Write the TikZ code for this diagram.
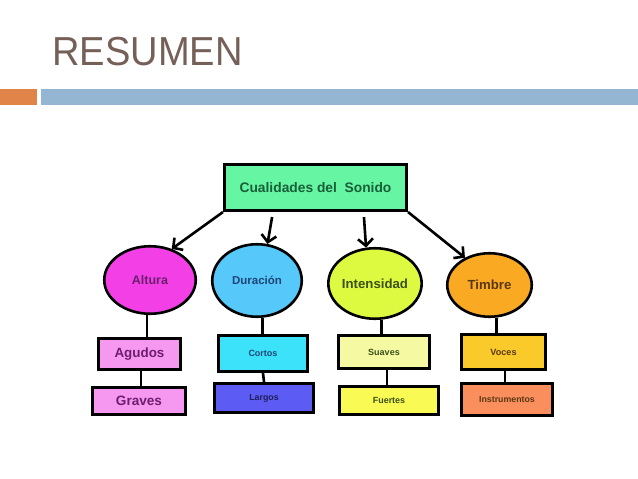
\documentclass[tikz,border=0pt]{standalone}
\usepackage{fontspec}
\setmainfont{Liberation Sans}
\usepackage{color}
\definecolor{titlegray}{RGB}{117,96,88}
\definecolor{barorange}{RGB}{224,132,74}
\definecolor{barblue}{RGB}{148,182,210}
\definecolor{mintgreen}{RGB}{102,245,162}
\definecolor{altmagenta}{RGB}{242,64,230}
\definecolor{durblue}{RGB}{86,200,250}
\definecolor{intlime}{RGB}{222,250,64}
\definecolor{timorange}{RGB}{250,170,34}
\definecolor{lightpink}{RGB}{246,152,240}
\definecolor{cortocyan}{RGB}{60,226,250}
\definecolor{largoblue}{RGB}{92,92,245}
\definecolor{paleyellow}{RGB}{245,250,162}
\definecolor{brightyellow}{RGB}{250,250,84}
\definecolor{gold}{RGB}{250,202,42}
\definecolor{salmon}{RGB}{250,142,92}
\definecolor{txtgreen}{RGB}{25,95,55}
\definecolor{txtpurple}{RGB}{110,30,110}
\definecolor{txtblue}{RGB}{30,70,120}
\definecolor{txtnavy}{RGB}{30,30,90}
\definecolor{txtolive}{RGB}{60,80,25}
\definecolor{txtbrown}{RGB}{90,55,20}
\usepackage{tikz}
\usetikzlibrary{shapes.geometric,arrows.meta,calc}
\tikzstyle{oval}=[draw,ellipse,inner sep=0pt]
\tikzstyle{box}=[draw,rectangle,inner sep=0pt]
\newcommand{\fs}[1]{\fontsize{#1}{#1}\selectfont\bfseries}

\begin{document}
\begin{tikzpicture}[x=1pt,y=-1pt,line width=2.6pt,>={Straight Barb[length=7pt,width=15pt]}]
\useasboundingbox (0,0) rectangle (638,479);
% header
\fill[barorange] (0,89) rectangle (37,105);
\fill[barblue] (41,89) rectangle (638,105);
\draw (51,65) node [anchor=base west,inner sep=0pt,text=titlegray,font=\fontsize{40.5}{40.5}\selectfont] (title) {\scalebox{0.94}[1]{RESUMEN}};
% main box
\draw (315.5,187.5) node [box,fill=mintgreen,minimum width=182.5pt,minimum height=46.5pt,text=txtgreen,font=\fs{13.8}] (top) {Cualidades del\ \ Sonido};
% qualities
\draw (150,280) node [oval,fill=altmagenta,minimum width=91.5pt,minimum height=67.5pt,text=txtpurple,font=\fs{12.5}] (alt) {Altura};
\draw (257,280.5) node [oval,fill=durblue,minimum width=89.5pt,minimum height=72.5pt,text=txtblue,font=\fs{11.5}] (dur) {Duración};
\draw (375,283.5) node [oval,fill=intlime,minimum width=91.5pt,minimum height=70.5pt,text=txtolive,font=\fs{13.2}] (int) {Intensidad};
\draw (489.5,285) node [oval,fill=timorange,minimum width=84.5pt,minimum height=63.5pt,text=txtbrown,font=\fs{13.2}] (tim) {Timbre};
% leaves
\draw (139.5,354) node [box,fill=lightpink,minimum width=82.5pt,minimum height=31.5pt,text=txtpurple,font=\fs{13.4}] (agu) {Agudos};
\draw (139,401) node [box,fill=lightpink,minimum width=93.5pt,minimum height=27.5pt,text=txtpurple,font=\fs{13.6}] (gra) {Graves};
\draw (263,353.5) node [box,fill=cortocyan,minimum width=89.5pt,minimum height=36.5pt,text=txtblue,font=\fs{9}] (cor) {Cortos};
\draw (264,398) node [box,fill=largoblue,minimum width=99.5pt,minimum height=29.5pt,text=txtnavy,font=\fs{8.8}] (lar) {Largos};
\draw (384,352) node [box,fill=paleyellow,minimum width=91.5pt,minimum height=33.5pt,text=txtolive,font=\fs{9}] (sua) {Suaves};
\draw (389,400.5) node [box,fill=brightyellow,minimum width=99.5pt,minimum height=28.5pt,text=txtolive,font=\fs{8.9}] (fue) {Fuertes};
\draw (503.5,352) node [box,fill=gold,minimum width=84.5pt,minimum height=35.5pt,text=txtbrown,font=\fs{9.1}] (voc) {Voces};
\draw (507,399.5) node [box,fill=salmon,minimum width=91.5pt,minimum height=32.5pt,text=txtbrown,font=\fs{8.8}] (ins) {Instrumentos};
% arrows
\draw[->] (top.south west) -- (alt.55);
\draw[->,shorten <=5pt] ($(top.south west)!0.27!(top.south east)$) -- (dur.74);
\draw[->,shorten <=5pt] ($(top.south west)!0.76!(top.south east)$) -- (int.104);
\draw[->] (top.south east) -- (tim.132);
% links
\draw (alt.-95) -- (alt.-95 |- agu.north);
\draw (agu.-85) -- (agu.-85 |- gra.north);
\draw (dur.-82) -- (dur.-82 |- cor.north);
\draw (cor.south) -- (lar.north);
\draw (int.-80) -- (int.-80 |- sua.north);
\draw (sua.-80) -- (sua.-80 |- fue.north);
\draw (tim.-78) -- (tim.-78 |- voc.north);
\draw (voc.-85) -- (voc.-85 |- ins.north);
\end{tikzpicture}
\end{document}
